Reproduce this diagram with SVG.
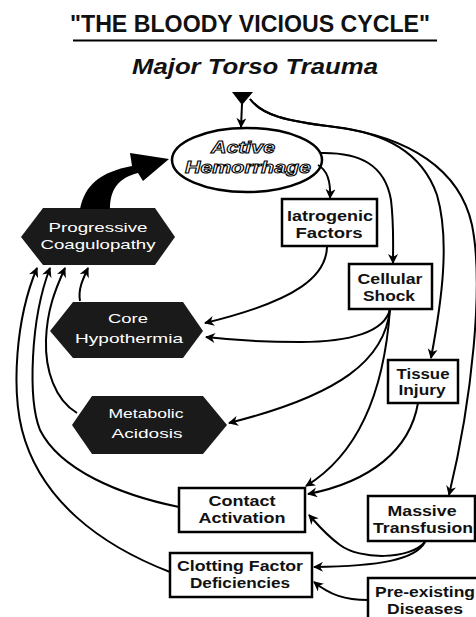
<svg xmlns="http://www.w3.org/2000/svg" width="476" height="617" viewBox="0 0 476 617">
<style>
.c{fill:none;stroke:#000;stroke-width:2}
.box{fill:#fff;stroke:#000;stroke-width:2.5}
.hex{fill:#1a1a1a;stroke:none}
.bt{font-family:"Liberation Sans",Arial,sans-serif;font-weight:bold;font-size:14px;fill:#111;text-anchor:middle}
.ht{font-family:"Liberation Sans",Arial,sans-serif;font-size:13px;fill:#fff;text-anchor:middle}
</style>
<defs>
<marker id="ah" viewBox="0 0 10 10" refX="9" refY="5" markerWidth="11" markerHeight="10" orient="auto" markerUnits="userSpaceOnUse">
<path d="M0,0 L10,5 L0,10 L3,5 Z" fill="#000"/>
</marker>
</defs>
<rect width="476" height="617" fill="#fff"/>

<g id="title">
<text x="250" y="32" font-family="'Liberation Sans',Arial,sans-serif" font-weight="bold" font-size="23" textLength="360" lengthAdjust="spacingAndGlyphs" text-anchor="middle" fill="#111">"THE BLOODY VICIOUS CYCLE"</text>
<line x1="73" y1="40.5" x2="437" y2="40.5" stroke="#000" stroke-width="2.2"/>
</g>

<g id="major-torso-trauma">
<text x="255" y="74" font-family="'Liberation Sans',Arial,sans-serif" font-weight="bold" font-style="italic" font-size="22" textLength="246" lengthAdjust="spacingAndGlyphs" text-anchor="middle" fill="#111">Major Torso Trauma</text>
<polygon points="232,92 253,92 242,105" fill="#000"/>
</g>

<g id="active-hemorrhage">
<ellipse cx="247" cy="160" rx="75" ry="32" fill="#fff" stroke="#000" stroke-width="2.5"/>
<text x="243" y="153" font-family="'Liberation Sans',Arial,sans-serif" font-weight="bold" font-style="italic" font-size="17" textLength="64" lengthAdjust="spacingAndGlyphs" text-anchor="middle" fill="#fff" stroke="#000" stroke-width="1">Active</text>
<text x="248" y="173" font-family="'Liberation Sans',Arial,sans-serif" font-weight="bold" font-style="italic" font-size="17" textLength="126" lengthAdjust="spacingAndGlyphs" text-anchor="middle" fill="#fff" stroke="#000" stroke-width="1">Hemorrhage</text>
</g>

<g id="progressive-coagulopathy">
<polygon class="hex" points="21,237 43,208 155,208 175,237 155,265 43,265"/>
<text class="ht" x="98" y="232" textLength="99" lengthAdjust="spacingAndGlyphs">Progressive</text>
<text class="ht" x="98" y="249" textLength="115" lengthAdjust="spacingAndGlyphs">Coagulopathy</text>
</g>

<g id="core-hypothermia">
<polygon class="hex" points="50,331 73,302 183,302 203,331 183,358 73,358"/>
<text class="ht" x="128" y="323" textLength="40" lengthAdjust="spacingAndGlyphs">Core</text>
<text class="ht" x="129" y="343" textLength="108" lengthAdjust="spacingAndGlyphs">Hypothermia</text>
</g>

<g id="metabolic-acidosis">
<polygon class="hex" points="72,425 92,396 203,396 227,425 203,454 92,454"/>
<text class="ht" x="146" y="418" textLength="75" lengthAdjust="spacingAndGlyphs">Metabolic</text>
<text class="ht" x="147" y="438" textLength="71" lengthAdjust="spacingAndGlyphs">Acidosis</text>
</g>

<g id="iatrogenic-factors">
<rect class="box" x="282" y="199" width="95" height="47"/>
<text class="bt" x="330" y="221" textLength="86" lengthAdjust="spacingAndGlyphs">Iatrogenic</text>
<text class="bt" x="329" y="238" textLength="67" lengthAdjust="spacingAndGlyphs">Factors</text>
</g>

<g id="cellular-shock">
<rect class="box" x="349" y="264" width="83" height="45"/>
<text class="bt" x="390" y="284" textLength="65" lengthAdjust="spacingAndGlyphs">Cellular</text>
<text class="bt" x="389" y="301" textLength="52" lengthAdjust="spacingAndGlyphs">Shock</text>
</g>

<g id="tissue-injury">
<rect class="box" x="388" y="360" width="70" height="43"/>
<text class="bt" x="423" y="379" textLength="53" lengthAdjust="spacingAndGlyphs">Tissue</text>
<text class="bt" x="422" y="395" textLength="47" lengthAdjust="spacingAndGlyphs">Injury</text>
</g>

<g id="contact-activation">
<rect class="box" x="179" y="488" width="126" height="44"/>
<text class="bt" x="242" y="506" textLength="67" lengthAdjust="spacingAndGlyphs">Contact</text>
<text class="bt" x="242" y="523" textLength="87" lengthAdjust="spacingAndGlyphs">Activation</text>
</g>

<g id="clotting-factor-deficiencies">
<rect class="box" x="170" y="553" width="142" height="44"/>
<text class="bt" x="240" y="571" textLength="126" lengthAdjust="spacingAndGlyphs">Clotting Factor</text>
<text class="bt" x="240" y="588" textLength="100" lengthAdjust="spacingAndGlyphs">Deficiencies</text>
</g>

<g id="massive-transfusion">
<rect class="box" x="368" y="496" width="107" height="45"/>
<text class="bt" x="422" y="516" textLength="69" lengthAdjust="spacingAndGlyphs">Massive</text>
<text class="bt" x="423" y="533" textLength="100" lengthAdjust="spacingAndGlyphs">Transfusion</text>
</g>

<g id="pre-existing-diseases">
<rect class="box" x="368" y="578" width="110" height="50"/>
<text class="bt" x="425" y="597" textLength="100" lengthAdjust="spacingAndGlyphs">Pre-existing</text>
<text class="bt" x="425" y="614" textLength="76" lengthAdjust="spacingAndGlyphs">Diseases</text>
</g>

<g id="connectors">
<path class="c" d="M242,104 L241,127" marker-end="url(#ah)"/>
<path class="c" d="M250,99 C262,115 285,121 335,127 C385,133 422,152 437,195 C450,240 442,300 431,358" marker-end="url(#ah)"/>
<path class="c" d="M250,99 C262,115 285,121 335,127 C410,137 460,170 472,225 C484,285 472,400 449,495" marker-end="url(#ah)"/>
<path class="c" d="M318,165 C327,170 331,180 330,198" marker-end="url(#ah)"/>
<path class="c" d="M320,153 C360,152 385,165 391,200 C394,225 393,245 393,263" marker-end="url(#ah)"/>
<path class="c" d="M327,247 C326,275 300,300 205,323" marker-end="url(#ah)"/>
<path class="c" d="M390,309 C385,332 350,342 300,342 C260,342 232,340 206,337" marker-end="url(#ah)"/>
<path class="c" d="M390,309 C385,360 340,395 229,423" marker-end="url(#ah)"/>
<path class="c" d="M390,309 C385,380 365,450 306,486" marker-end="url(#ah)"/>
<path class="c" d="M418,403 C410,450 370,482 308,494" marker-end="url(#ah)"/>
<path class="c" d="M425,542 C410,560 360,560 340,545 C326,535 318,525 309,515" marker-end="url(#ah)"/>
<path class="c" d="M425,542 C415,560 380,566 314,567" marker-end="url(#ah)"/>
<path class="c" d="M368,600 C345,600 330,595 314,582" marker-end="url(#ah)"/>
<path class="c" d="M170,572 C100,545 40,500 22,430 C12,390 15,320 37,268" marker-end="url(#ah)"/>
<path class="c" d="M179,507 C120,495 60,470 40,430 C28,400 30,320 50,268" marker-end="url(#ah)"/>
<path class="c" d="M77,413 C55,400 45,370 46,340 C47,310 55,290 65,268" marker-end="url(#ah)"/>
<path class="c" d="M80,301 C78,290 82,281 88,268" marker-end="url(#ah)"/>
<path d="M80,209 C85,185 100,172 132,166 L130,153 L169,159 L143,181 L138,173 C118,178 110,190 110,209 Z" fill="#000"/>
</g>
</svg>
